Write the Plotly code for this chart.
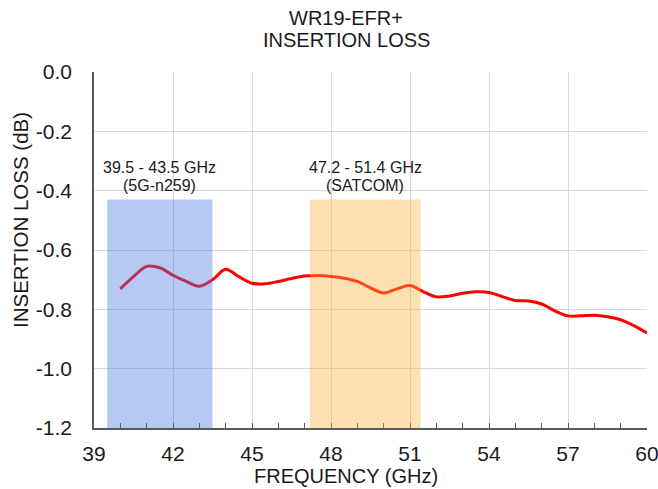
import plotly.graph_objects as go

freq = [40, 40.5, 41, 41.5, 42, 42.5, 43, 43.5, 44, 44.5, 45, 45.5, 46, 46.5, 47, 47.5,
        48, 48.5, 49, 49.5, 50, 50.5, 51, 51.5, 52, 52.5, 53, 53.5, 54, 54.5, 55, 55.5,
        56, 56.5, 57, 57.5, 58, 58.5, 59, 59.5, 60]
loss = [-0.731, -0.69, -0.655, -0.66, -0.685, -0.706, -0.722, -0.70, -0.665, -0.69,
        -0.712, -0.714, -0.706, -0.696, -0.688, -0.686, -0.689, -0.695, -0.706, -0.728,
        -0.745, -0.731, -0.72, -0.74, -0.758, -0.755, -0.746, -0.741, -0.743, -0.757,
        -0.77, -0.772, -0.782, -0.805, -0.822, -0.822, -0.82, -0.825, -0.835, -0.855, -0.88]

bands = [(39.5, 43.5), (47.2, 51.4)]
band_label_line1 = ["39.5 - 43.5 GHz", "47.2 - 51.4 GHz"]
band_label_line2 = ["(5G-n259)", "(SATCOM)"]
band_colors = ["rgba(75,120,223,0.4)", "rgba(250,177,63,0.4)"]
band_top = -0.43

x_ticks = [39, 42, 45, 48, 51, 54, 57, 60]
y_ticks = [0.0, -0.2, -0.4, -0.6, -0.8, -1.0, -1.2]

title_lines = ["WR19-EFR+", "INSERTION LOSS"]
x_title = "FREQUENCY (GHz)"
y_title = "INSERTION LOSS (dB)"

FONT = "Liberation Sans"
TXT = "#1a1a1a"

fig = go.Figure()
fig.add_trace(go.Scatter(x=freq, y=loss, mode="lines",
                         line=dict(color="#ff0000", width=3, shape="spline", smoothing=1.0),
                         showlegend=False, hoverinfo="x+y"))

for (x0, x1), l1, l2, col in zip(bands, band_label_line1, band_label_line2, band_colors):
    fig.add_shape(type="rect", xref="x", yref="y", x0=x0, x1=x1, y0=-1.2, y1=band_top,
                  fillcolor=col, line=dict(width=0), layer="above")
    fig.add_annotation(x=(x0 + x1) / 2, y=band_top, xref="x", yref="y", text=l1,
                       showarrow=False, yanchor="middle", yshift=32,
                       font=dict(family=FONT, size=16, color=TXT))
    fig.add_annotation(x=(x0 + x1) / 2, y=band_top, xref="x", yref="y", text=l2,
                       showarrow=False, yanchor="middle", yshift=14,
                       font=dict(family=FONT, size=16, color=TXT))

# chart title (two lines)
for txt, yy in zip(title_lines, [1.1508, 1.0899]):
    fig.add_annotation(x=0.4566, y=yy, xref="paper", yref="paper", text=txt,
                       showarrow=False, xanchor="center", yanchor="middle",
                       font=dict(family=FONT, size=20, color=TXT))

# axis titles
fig.add_annotation(x=0.4557, y=-0.1362, xref="paper", yref="paper", text=x_title,
                   showarrow=False, xanchor="center", yanchor="middle",
                   font=dict(family=FONT, size=20, color=TXT))
fig.add_annotation(x=-0.132, y=0.5843, xref="paper", yref="paper", text=y_title,
                   showarrow=False, xanchor="center", yanchor="middle", textangle=-90,
                   font=dict(family=FONT, size=20.5, color=TXT))

fig.update_layout(
    width=658, height=489,
    margin=dict(l=94, r=11, t=72, b=61, autoexpand=False),
    paper_bgcolor="white", plot_bgcolor="white",
    xaxis=dict(range=[39, 60], tickvals=x_ticks, ticktext=[str(v) for v in x_ticks],
               showgrid=True, gridcolor="#d9d9d9", gridwidth=1,
               showline=True, linecolor="#595959", linewidth=1.5,
               ticks="inside", ticklen=5, tickcolor="#595959",
               minor=dict(dtick=1, tick0=39, ticks="inside", ticklen=5, tickcolor="#595959", showgrid=False),
               ticklabelstandoff=6, ticklabeloverflow="allow",
               tickfont=dict(family=FONT, size=21, color=TXT),
               zeroline=False, automargin=False),
    yaxis=dict(range=[-1.2, 0.0], tickvals=y_ticks, ticktext=["%.1f" % v for v in y_ticks],
               showgrid=True, gridcolor="#d9d9d9", gridwidth=1,
               showline=True, linecolor="#595959", linewidth=1.5,
               ticks="", ticklabelstandoff=16, ticklabeloverflow="allow",
               tickfont=dict(family=FONT, size=21, color=TXT),
               zeroline=False, automargin=False),
)

fig.write_html("out.html", config={"displayModeBar": False},
               post_script="document.body.style.margin='0';document.body.style.overflow='hidden';")
